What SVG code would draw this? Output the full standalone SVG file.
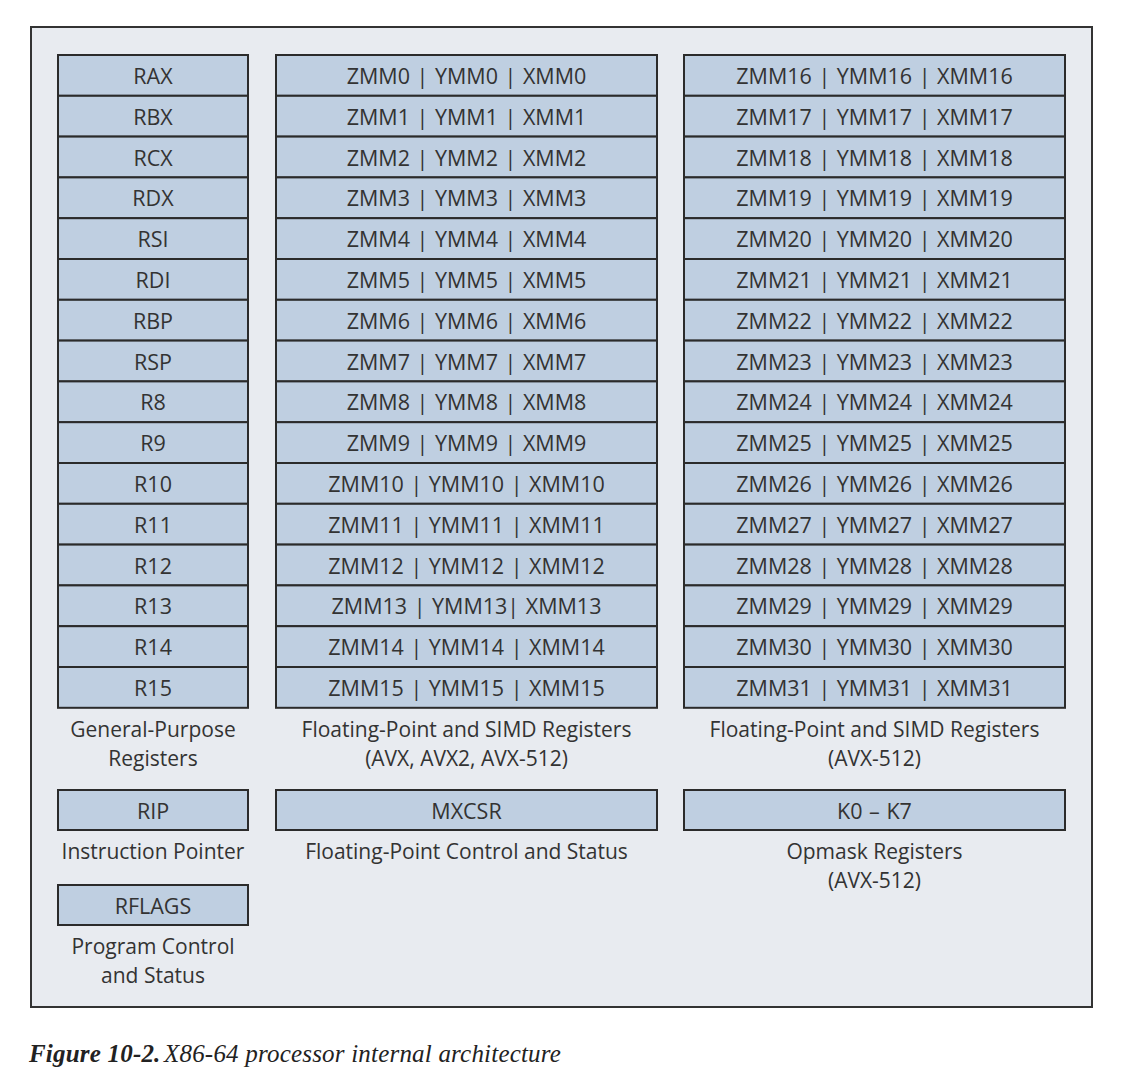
<svg xmlns="http://www.w3.org/2000/svg" width="1130" height="1082" viewBox="0 0 1130 1082">
<style>
.reg{fill:#bfcfe1;stroke:#2b2b2b;stroke-width:2}
.t{font-family:"Open Sans","Noto Sans",sans-serif;font-size:21.5px;word-spacing:1px;fill:#333;text-anchor:middle;dominant-baseline:central}
.l{font-family:"Open Sans","Noto Sans",sans-serif;font-size:21px;fill:#333;text-anchor:middle}
.cap{font-family:"Liberation Serif",serif;font-size:25px;font-style:italic;fill:#222;letter-spacing:0.2px}
</style>
<rect x="0" y="0" width="1130" height="1082" fill="#ffffff"/>
<rect x="31" y="27" width="1061" height="980" fill="#e8ebf0" stroke="#333" stroke-width="2"/>
<g id="gpr">
<rect class="reg" x="58" y="55" width="190" height="40.8"/><text class="t" x="153" y="75.4">RAX</text>
<rect class="reg" x="58" y="95.8" width="190" height="40.8"/><text class="t" x="153" y="116.2">RBX</text>
<rect class="reg" x="58" y="136.6" width="190" height="40.8"/><text class="t" x="153" y="157">RCX</text>
<rect class="reg" x="58" y="177.4" width="190" height="40.8"/><text class="t" x="153" y="197.8">RDX</text>
<rect class="reg" x="58" y="218.2" width="190" height="40.8"/><text class="t" x="153" y="238.6">RSI</text>
<rect class="reg" x="58" y="259" width="190" height="40.8"/><text class="t" x="153" y="279.4">RDI</text>
<rect class="reg" x="58" y="299.8" width="190" height="40.8"/><text class="t" x="153" y="320.2">RBP</text>
<rect class="reg" x="58" y="340.6" width="190" height="40.8"/><text class="t" x="153" y="361">RSP</text>
<rect class="reg" x="58" y="381.4" width="190" height="40.8"/><text class="t" x="153" y="401.8">R8</text>
<rect class="reg" x="58" y="422.2" width="190" height="40.8"/><text class="t" x="153" y="442.6">R9</text>
<rect class="reg" x="58" y="463" width="190" height="40.8"/><text class="t" x="153" y="483.4">R10</text>
<rect class="reg" x="58" y="503.8" width="190" height="40.8"/><text class="t" x="153" y="524.2">R11</text>
<rect class="reg" x="58" y="544.6" width="190" height="40.8"/><text class="t" x="153" y="565">R12</text>
<rect class="reg" x="58" y="585.4" width="190" height="40.8"/><text class="t" x="153" y="605.8">R13</text>
<rect class="reg" x="58" y="626.2" width="190" height="40.8"/><text class="t" x="153" y="646.6">R14</text>
<rect class="reg" x="58" y="667" width="190" height="40.8"/><text class="t" x="153" y="687.4">R15</text>
<text class="l" x="153" y="737">General-Purpose</text>
<text class="l" x="153" y="766">Registers</text>
</g>
<g id="simd-low">
<rect class="reg" x="276" y="55" width="381" height="40.8"/><text class="t" x="466.5" y="75.4">ZMM0 | YMM0 | XMM0</text>
<rect class="reg" x="276" y="95.8" width="381" height="40.8"/><text class="t" x="466.5" y="116.2">ZMM1 | YMM1 | XMM1</text>
<rect class="reg" x="276" y="136.6" width="381" height="40.8"/><text class="t" x="466.5" y="157">ZMM2 | YMM2 | XMM2</text>
<rect class="reg" x="276" y="177.4" width="381" height="40.8"/><text class="t" x="466.5" y="197.8">ZMM3 | YMM3 | XMM3</text>
<rect class="reg" x="276" y="218.2" width="381" height="40.8"/><text class="t" x="466.5" y="238.6">ZMM4 | YMM4 | XMM4</text>
<rect class="reg" x="276" y="259" width="381" height="40.8"/><text class="t" x="466.5" y="279.4">ZMM5 | YMM5 | XMM5</text>
<rect class="reg" x="276" y="299.8" width="381" height="40.8"/><text class="t" x="466.5" y="320.2">ZMM6 | YMM6 | XMM6</text>
<rect class="reg" x="276" y="340.6" width="381" height="40.8"/><text class="t" x="466.5" y="361">ZMM7 | YMM7 | XMM7</text>
<rect class="reg" x="276" y="381.4" width="381" height="40.8"/><text class="t" x="466.5" y="401.8">ZMM8 | YMM8 | XMM8</text>
<rect class="reg" x="276" y="422.2" width="381" height="40.8"/><text class="t" x="466.5" y="442.6">ZMM9 | YMM9 | XMM9</text>
<rect class="reg" x="276" y="463" width="381" height="40.8"/><text class="t" x="466.5" y="483.4">ZMM10 | YMM10 | XMM10</text>
<rect class="reg" x="276" y="503.8" width="381" height="40.8"/><text class="t" x="466.5" y="524.2">ZMM11 | YMM11 | XMM11</text>
<rect class="reg" x="276" y="544.6" width="381" height="40.8"/><text class="t" x="466.5" y="565">ZMM12 | YMM12 | XMM12</text>
<rect class="reg" x="276" y="585.4" width="381" height="40.8"/><text class="t" x="466.5" y="605.8">ZMM13 | YMM13| XMM13</text>
<rect class="reg" x="276" y="626.2" width="381" height="40.8"/><text class="t" x="466.5" y="646.6">ZMM14 | YMM14 | XMM14</text>
<rect class="reg" x="276" y="667" width="381" height="40.8"/><text class="t" x="466.5" y="687.4">ZMM15 | YMM15 | XMM15</text>
<text class="l" x="466.5" y="737">Floating-Point and SIMD Registers</text>
<text class="l" x="466.5" y="766">(AVX, AVX2, AVX-512)</text>
</g>
<g id="simd-high">
<rect class="reg" x="684" y="55" width="381" height="40.8"/><text class="t" x="874.5" y="75.4">ZMM16 | YMM16 | XMM16</text>
<rect class="reg" x="684" y="95.8" width="381" height="40.8"/><text class="t" x="874.5" y="116.2">ZMM17 | YMM17 | XMM17</text>
<rect class="reg" x="684" y="136.6" width="381" height="40.8"/><text class="t" x="874.5" y="157">ZMM18 | YMM18 | XMM18</text>
<rect class="reg" x="684" y="177.4" width="381" height="40.8"/><text class="t" x="874.5" y="197.8">ZMM19 | YMM19 | XMM19</text>
<rect class="reg" x="684" y="218.2" width="381" height="40.8"/><text class="t" x="874.5" y="238.6">ZMM20 | YMM20 | XMM20</text>
<rect class="reg" x="684" y="259" width="381" height="40.8"/><text class="t" x="874.5" y="279.4">ZMM21 | YMM21 | XMM21</text>
<rect class="reg" x="684" y="299.8" width="381" height="40.8"/><text class="t" x="874.5" y="320.2">ZMM22 | YMM22 | XMM22</text>
<rect class="reg" x="684" y="340.6" width="381" height="40.8"/><text class="t" x="874.5" y="361">ZMM23 | YMM23 | XMM23</text>
<rect class="reg" x="684" y="381.4" width="381" height="40.8"/><text class="t" x="874.5" y="401.8">ZMM24 | YMM24 | XMM24</text>
<rect class="reg" x="684" y="422.2" width="381" height="40.8"/><text class="t" x="874.5" y="442.6">ZMM25 | YMM25 | XMM25</text>
<rect class="reg" x="684" y="463" width="381" height="40.8"/><text class="t" x="874.5" y="483.4">ZMM26 | YMM26 | XMM26</text>
<rect class="reg" x="684" y="503.8" width="381" height="40.8"/><text class="t" x="874.5" y="524.2">ZMM27 | YMM27 | XMM27</text>
<rect class="reg" x="684" y="544.6" width="381" height="40.8"/><text class="t" x="874.5" y="565">ZMM28 | YMM28 | XMM28</text>
<rect class="reg" x="684" y="585.4" width="381" height="40.8"/><text class="t" x="874.5" y="605.8">ZMM29 | YMM29 | XMM29</text>
<rect class="reg" x="684" y="626.2" width="381" height="40.8"/><text class="t" x="874.5" y="646.6">ZMM30 | YMM30 | XMM30</text>
<rect class="reg" x="684" y="667" width="381" height="40.8"/><text class="t" x="874.5" y="687.4">ZMM31 | YMM31 | XMM31</text>
<text class="l" x="874.5" y="737">Floating-Point and SIMD Registers</text>
<text class="l" x="874.5" y="766">(AVX-512)</text>
</g>
<g id="rip">
<rect class="reg" x="58" y="790" width="190" height="40"/><text class="t" x="153" y="810">RIP</text>
<text class="l" x="153" y="859">Instruction Pointer</text>
</g>
<g id="mxcsr">
<rect class="reg" x="276" y="790" width="381" height="40"/><text class="t" x="466.5" y="810">MXCSR</text>
<text class="l" x="466.5" y="859">Floating-Point Control and Status</text>
</g>
<g id="opmask">
<rect class="reg" x="684" y="790" width="381" height="40"/><text class="t" x="874.5" y="810">K0 – K7</text>
<text class="l" x="874.5" y="859">Opmask Registers</text>
<text class="l" x="874.5" y="888">(AVX-512)</text>
</g>
<g id="rflags">
<rect class="reg" x="58" y="885" width="190" height="40"/><text class="t" x="153" y="905">RFLAGS</text>
<text class="l" x="153" y="954">Program Control</text>
<text class="l" x="153" y="983">and Status</text>
</g>
<g id="connectors"></g>
<text class="cap" x="29" y="1062"><tspan font-weight="bold">Figure 10-2.</tspan><tspan x="164">X86-64 processor internal architecture</tspan></text>
</svg>
